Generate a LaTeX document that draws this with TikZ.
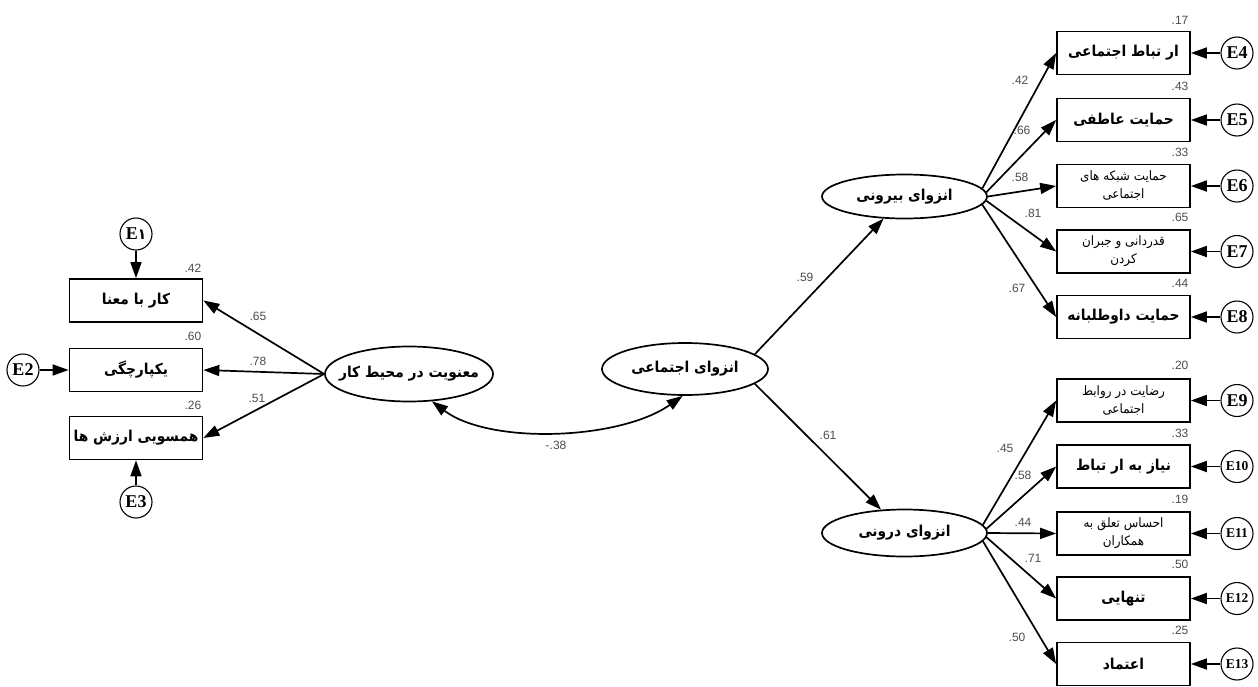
\documentclass[tikz,border=0pt]{standalone}
\usepackage{fontspec}
\setmainfont{Liberation Serif}
\newfontfamily\farsifont[Script=Arabic,FakeStretch=0.92]{DejaVu Sans}
\newfontfamily\numfont{Liberation Sans}
\TeXXeTstate=1
\usetikzlibrary{arrows.meta,shapes.geometric}
\newcommand\pers[1]{{\farsifont\beginR #1\endR}}
\begin{document}
\begin{tikzpicture}[x=1pt,y=-1pt,
  box/.style={draw, line width=1.7pt, minimum width=133pt, minimum height=43pt, inner sep=0pt,
    font=\farsifont\bfseries\fontsize{15}{17}\selectfont},
  boxs/.style={box, align=center, font=\farsifont\fontsize{13}{18}\selectfont},
  lat/.style={draw, ellipse, line width=1.7pt, inner sep=0pt},
  lattext/.style={inner sep=0pt, font=\farsifont\bfseries\fontsize{15}{17}\selectfont},
  err/.style={draw, circle, line width=1.1pt, minimum size=32pt, inner sep=0pt,
    font=\bfseries\fontsize{18}{18}\selectfont},
  errs/.style={err, font=\bfseries\fontsize{13.5}{13.5}\selectfont},
  num/.style={font=\numfont\fontsize{12}{12}\selectfont, text=black!70, inner sep=0pt},
  arr/.style={line width=1.7pt, -{Triangle[length=16pt,width=11pt]}},
  arrb/.style={line width=1.7pt, {Triangle[length=16pt,width=11pt]}-{Triangle[length=16pt,width=11pt]}}
]
\useasboundingbox (0,0) rectangle (1258,686);

% latent variables
\node[lat, minimum width=168pt, minimum height=55pt] (ml) at (409,374) {};
\node[lat, minimum width=166pt, minimum height=52pt] (mc) at (685,369) {};
\node[lat, minimum width=165pt, minimum height=44pt] (eb) at (904.5,196.5) {};
\node[lat, minimum width=165pt, minimum height=47pt] (ed) at (904.5,533) {};
\node[lattext] (tml) at (ml) {\pers{معنویت در محیط کار}};
\node[lattext] (tmc) at (mc) {\pers{انزوای اجتماعی}};
\node[lattext] (teb) at (eb) {\pers{انزوای بیرونی}};
\node[lattext] (ted) at (ed) {\pers{انزوای درونی}};

% left indicators
\node[box] (l1) at (136,300.5) {\pers{کار با معنا}};
\node[box] (l2) at (136,370) {\pers{یکپارچگی}};
\node[box] (l3) at (136,438) {\pers{همسویی ارزش ها}};
\node[err] (e1) at (136,234) {E{\farsifont\bfseries\fontsize{15}{15}\selectfont ١}};
\node[err] (e2) at (23,370) {E2};
\node[err] (e3) at (136,502) {E3};

% right top indicators
\node[box]  (r1) at (1123.5,53) {\pers{ار تباط اجتماعی}};
\node[box]  (r2) at (1123.5,120) {\pers{حمایت عاطفی}};
\node[boxs] (r3) at (1123.5,186) {\pers{حمایت شبکه های}\\\pers{اجتماعی}};
\node[boxs] (r4) at (1123.5,251.5) {\pers{قدردانی و جبران}\\\pers{کردن}};
\node[box]  (r5) at (1123.5,317) {\pers{حمایت داوطلبانه}};
% right bottom indicators
\node[boxs] (r6) at (1123.5,400.5) {\pers{رضایت در روابط}\\\pers{اجتماعی}};
\node[box]  (r7) at (1123.5,466.5) {\pers{نیاز به ار تباط}};
\node[boxs] (r8) at (1123.5,533.5) {\pers{احساس تعلق به}\\\pers{همکاران}};
\node[box]  (r9) at (1123.5,598.5) {\pers{تنهایی}};
\node[box]  (r10) at (1123.5,664) {\pers{اعتماد}};

\node[err]  (e4) at (1237,53) {E4};
\node[err]  (e5) at (1237,120) {E5};
\node[err]  (e6) at (1237,186) {E6};
\node[err]  (e7) at (1237,251.5) {E7};
\node[err]  (e8) at (1237,317) {E8};
\node[err]  (e9) at (1237,400.5) {E9};
\node[errs] (e10) at (1237,466.5) {E10};
\node[errs] (e11) at (1237,533.5) {E11};
\node[errs] (e12) at (1237,598.5) {E12};
\node[errs] (e13) at (1237,664) {E13};

% connectors
\draw[arr] (ml.west) -- (l1.east);
\draw[arr] (ml.west) -- (l2.east);
\draw[arr] (ml.west) -- (l3.east);
\draw[arr] (e1) -- (l1);
\draw[arr] (e2) -- (l2);
\draw[arr] (e3) -- (l3);
\draw[arrb] (ml.310) .. controls (490,445) and (620,440) .. (mc.265);
\draw[arr] (mc.12) -- (eb);
\draw[arr] (mc.-12) -- (ed);

\draw[arr] (eb.6) -- (r1.west);
\draw[arr] (eb.3) -- (r2.west);
\draw[arr] (eb.east) -- (r3.west);
\draw[arr] (eb.-3) -- (r4.west);
\draw[arr] (eb.-6) -- (r5.west);
\draw[arr] (ed.6) -- (r6.west);
\draw[arr] (ed.3) -- (r7.west);
\draw[arr] (ed.east) -- (r8.west);
\draw[arr] (ed.-3) -- (r9.west);
\draw[arr] (ed.-6) -- (r10.west);

\foreach \i in {4,...,13} {
  \pgfmathtruncatemacro\j{\i-3}
  \draw[arr] (e\i) -- (r\j);
}

% numbers
\node[num] (n1) at (193,268) {.42};
\node[num] (n2) at (193,336) {.60};
\node[num] (n3) at (193,405) {.26};
\node[num] (n4) at (258,316) {.65};
\node[num] (n5) at (258,361) {.78};
\node[num] (n6) at (257,398) {.51};
\node[num] (n7) at (558,445) {.38};
\node[num, anchor=base east] (n7m) at (n7.base west) {-};
\node[num] (n8) at (805,277) {.59};
\node[num] (n9) at (828,435) {.61};

\node[num] at (1180,20) {.17};
\node[num] at (1180,86) {.43};
\node[num] at (1180,152) {.33};
\node[num] at (1180,217) {.65};
\node[num] at (1180,283) {.44};
\node[num] at (1020,80) {.42};
\node[num] at (1022,130) {.66};
\node[num] at (1020,177) {.58};
\node[num] at (1033,213) {.81};
\node[num] at (1017,288) {.67};

\node[num] at (1180,365) {.20};
\node[num] at (1180,433) {.33};
\node[num] at (1180,499) {.19};
\node[num] at (1180,564) {.50};
\node[num] at (1180,630) {.25};
\node[num] at (1005,448) {.45};
\node[num] at (1023,475) {.58};
\node[num] at (1023,522) {.44};
\node[num] at (1033,558) {.71};
\node[num] at (1017,637) {.50};
\end{tikzpicture}
\end{document}
